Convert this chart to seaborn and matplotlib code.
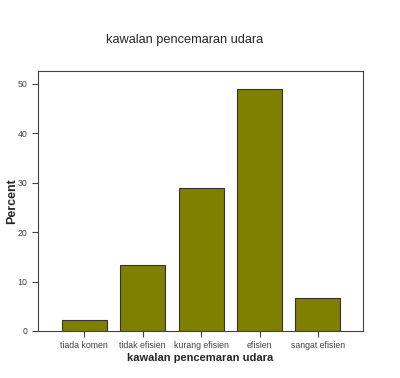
import numpy as np
import pandas as pd
import matplotlib
matplotlib.use("Agg")
import matplotlib.pyplot as plt
import seaborn as sns

### Data
kategori = ["tiada komen", "tidak efisien", "kurang efisien", "efisien", "sangat efisien"]
peratus = [2.2, 13.3, 28.9, 48.9, 6.7]

df = pd.DataFrame({"kawalan": kategori, "Percent": peratus})

sns.set_style("white")
plt.rcParams["font.family"] = ["Liberation Sans", "DejaVu Sans"]

fig = plt.figure(figsize=(4.0, 3.78), dpi=100)
ax = fig.add_axes([38/400, 1 - 331/378, (363-38)/400, (331-71)/378])

sns.barplot(data=df, x="kawalan", y="Percent", color="#808000", saturation=1,
            width=0.77, edgecolor="#333333", linewidth=0.8, ax=ax)

ax.set_xlim(-0.79, 4.77)
ax.set_ylim(0, 52.6)
ax.set_yticks([0, 10, 20, 30, 40, 50])
ax.tick_params(axis="both", labelsize=6.3, colors="#444444", length=4, width=0.8,
               direction="out", bottom=True, left=True)
for s in ax.spines.values():
    s.set_color("#444444")
    s.set_linewidth(0.8)

ax.set_xlabel("kawalan pencemaran udara", fontsize=8, fontweight="bold", labelpad=2)
ax.set_ylabel("Percent", fontsize=9, fontweight="bold")
ax.yaxis.set_label_coords(-0.062, 0.5)
fig.text(185/400, 1 - 40/378, "kawalan pencemaran udara", fontsize=9.2, ha="center", va="center")

fig.savefig("out.png", dpi=100, facecolor="white")
